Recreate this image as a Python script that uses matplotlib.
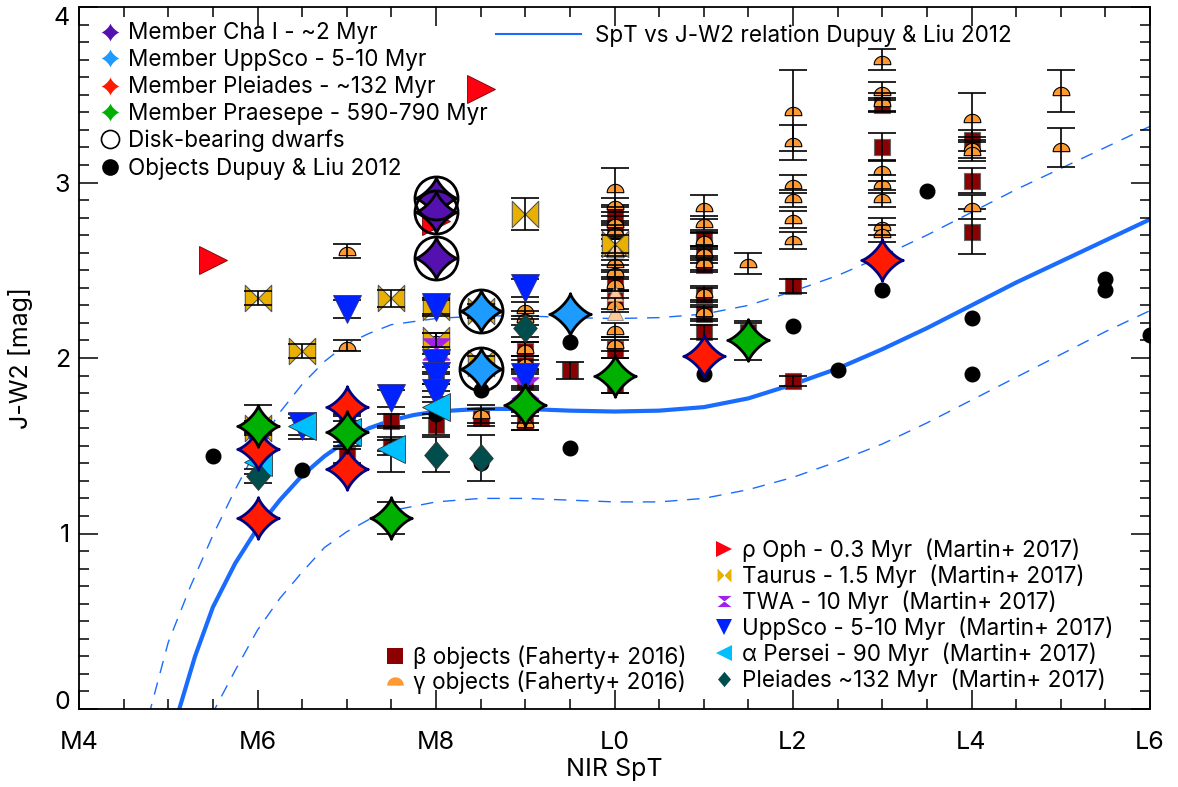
import numpy as np
import matplotlib
matplotlib.use("Agg")
import matplotlib.pyplot as plt
from matplotlib.path import Path
from matplotlib.lines import Line2D

# ---- data (NIR SpT: M4=4 ... M9=9, L0=10 ... L6=16) ----
# Dupuy & Liu 2012 relation and its scatter
dl_spt = [5.1, 5.3, 5.5, 5.75, 6.0, 6.25, 6.5, 6.75, 7.0, 7.25, 7.5, 7.75, 8.0, 8.5,
          9.0, 9.5, 10.0, 10.5, 11.0, 11.5, 12.0, 12.5, 13.0, 13.5, 14.0, 14.5, 15.0, 15.5, 16.0]
dl_jw2 = [-0.04, 0.30, 0.58, 0.83, 1.03, 1.19, 1.33, 1.44, 1.53, 1.60, 1.645, 1.675, 1.695, 1.71,
          1.71, 1.70, 1.695, 1.70, 1.72, 1.77, 1.85, 1.94, 2.05, 2.17, 2.30, 2.43, 2.55, 2.67, 2.79]
up_spt = [4.78, 5.0, 5.25, 5.5, 5.75, 6.0, 6.25, 6.5, 6.75, 7.0, 7.25, 7.5, 8.0, 8.5, 9.0, 9.5,
          10.0, 10.5, 11.0, 11.5, 12.0, 12.5, 13.0, 13.5, 14.0, 14.5, 15.0, 15.5, 16.0]
up_jw2 = [-0.04, 0.38, 0.70, 0.99, 1.25, 1.49, 1.69, 1.85, 1.98, 2.08, 2.14, 2.19, 2.225, 2.24, 2.24, 2.23,
          2.225, 2.23, 2.25, 2.30, 2.38, 2.47, 2.58, 2.70, 2.83, 2.96, 3.08, 3.20, 3.32]
lo_spt = [5.48, 5.75, 6.0, 6.25, 6.5, 6.75, 7.0, 7.25, 7.5, 8.0, 8.5, 9.0, 9.5, 10.0, 10.5,
          11.0, 11.5, 12.0, 12.5, 13.0, 13.5, 14.0, 14.5, 15.0, 15.5, 16.0]
lo_jw2 = [-0.04, 0.22, 0.45, 0.63, 0.78, 0.92, 1.01, 1.08, 1.13, 1.18, 1.20, 1.20, 1.19, 1.18, 1.18,
          1.20, 1.25, 1.32, 1.41, 1.51, 1.63, 1.76, 1.89, 2.02, 2.15, 2.27]

# Dupuy & Liu 2012 objects
dupuy_spt = [5.5, 6.5, 8.0, 8.5, 8.5, 9.5, 9.5, 11.0, 12.0, 12.5, 13.0, 13.5, 14.0, 14.0, 15.5, 15.5, 16.0]
dupuy_jw2 = [1.44, 1.36, 1.68, 1.82, 1.40, 2.09, 1.49, 1.91, 2.18, 1.93, 2.39, 2.95, 2.23, 1.91, 2.45, 2.39, 2.13]

# Faherty+ 2016 beta objects
beta_spt = [7, 7, 7.5, 7.5, 8, 8, 8.5, 9, 9, 9, 9, 9.5,
            10, 10, 10, 10, 10, 10, 11, 11, 11, 11, 11, 11, 11.5, 12, 12, 13, 13, 14, 14, 14]
beta_jw2 = [1.62, 1.45, 1.64, 1.50, 1.86, 1.62, 1.66, 2.04, 1.96, 1.87, 1.64, 1.93,
            2.82, 2.73, 2.44, 2.33, 2.05, 1.85, 2.68, 2.58, 2.53, 2.36, 2.25, 2.15, 2.15, 2.41, 1.87,
            3.44, 3.20, 3.24, 3.01, 2.72]
beta_err = [0.05, 0.05, 0.04, 0.05, 0.05, 0.06, 0.05, 0.05, 0.05, 0.05, 0.05, 0.05,
            0.05, 0.05, 0.05, 0.05, 0.05, 0.05, 0.04, 0.04, 0.04, 0.04, 0.04, 0.04, 0.05, 0.04, 0.03,
            0.04, 0.08, 0.06, 0.07, 0.13]

# Faherty+ 2016 gamma objects
gamma_spt = [7, 7, 7.5, 8, 8.5, 9, 9, 9, 9, 9,
             10, 10, 10, 10, 10, 10, 10, 10, 10, 10, 10,
             11, 11, 11, 11, 11, 11, 11, 11.5,
             12, 12, 12, 12, 12, 12,
             13, 13, 13, 13, 13, 13, 13, 13,
             14, 14, 14, 14, 15, 15]
gamma_jw2 = [2.61, 2.07, 1.50, 2.10, 1.68, 2.28, 2.23, 2.05, 1.97, 1.63,
             2.97, 2.87, 2.77, 2.72, 2.60, 2.54, 2.49, 2.42, 2.30, 2.16, 2.08,
             2.86, 2.77, 2.67, 2.60, 2.54, 2.37, 2.26, 2.54,
             3.41, 3.23, 2.99, 2.91, 2.79, 2.67,
             3.70, 3.52, 3.46, 3.07, 2.99, 2.91, 2.75, 2.71,
             3.37, 3.20, 3.18, 2.86, 3.52, 3.20]
gamma_err = [0.04, 0.03, 0.03, 0.04, 0.05, 0.04, 0.04, 0.04, 0.04, 0.04,
             0.11, 0.04, 0.04, 0.04, 0.04, 0.04, 0.04, 0.04, 0.04, 0.04, 0.04,
             0.07, 0.04, 0.04, 0.04, 0.04, 0.04, 0.04, 0.06,
             0.23, 0.10, 0.05, 0.05, 0.05, 0.05,
             0.06, 0.05, 0.05, 0.06, 0.05, 0.05, 0.05, 0.05,
             0.14, 0.06, 0.06, 0.07, 0.12, 0.11]
pale_spt = [10, 10, 10]
pale_jw2 = [2.62, 2.37, 2.26]

# Martin+ 2017
oph_spt = [5.5, 8.5, 8.0]
oph_jw2 = [2.56, 3.53, 2.78]
tau_spt = [6, 6, 6.5, 7.5, 8, 8, 8.5, 8.5, 9, 10]
tau_jw2 = [2.34, 1.60, 2.04, 2.34, 2.29, 2.10, 2.27, 1.97, 2.82, 2.65]
tau_err = [0.04, 0.04, 0.04, 0.05, 0.04, 0.04, 0.04, 0.04, 0.09, 0.05]
twa_spt = [8, 9]
twa_jw2 = [2.05, 1.83]
usco_spt = [6, 6.5, 7, 7.5, 8, 8, 8, 8, 9, 9]
usco_jw2 = [1.52, 1.61, 2.28, 1.77, 2.29, 1.97, 1.90, 1.80, 2.40, 1.89]
usco_err = [0.05, 0.07, 0.05, 0.05, 0.05, 0.05, 0.05, 0.05, 0.05, 0.05]
aper_spt = [6, 6.5, 7, 7.5, 8]
aper_jw2 = [1.41, 1.61, 1.58, 1.48, 1.72]
aper_err = [0.07, 0.05, 0.06, 0.13, 0.06]
plm_spt = [6, 8, 8.5, 9]
plm_jw2 = [1.33, 1.45, 1.43, 2.17]
plm_err = [0.04, 0.1, 0.13, 0.05]

# members (this work)
cha_spt = [8, 8, 8]
cha_jw2 = [2.91, 2.83, 2.57]
usc_spt = [8.5, 8.5, 9.5]
usc_jw2 = [2.27, 1.94, 2.25]
ple_spt = [6, 6, 7, 7, 11, 13]
ple_jw2 = [1.09, 1.48, 1.72, 1.37, 2.01, 2.56]
pra_spt = [6, 7, 7.5, 9, 10, 11.5]
pra_jw2 = [1.61, 1.58, 1.09, 1.73, 1.90, 2.10]
pra_err = [0.12, 0.10, 0.09, 0.10, 0.10, 0.11]
disk_spt = [8, 8, 8, 8.5, 8.5]
disk_jw2 = [2.91, 2.83, 2.57, 2.27, 1.94]

xticks = [4, 6, 8, 10, 12, 14, 16]
xticklabels = ['M4', 'M6', 'M8', 'L0', 'L2', 'L4', 'L6']


# ---- custom markers ----
def make_star(p=2.6, n=160):
    t = np.linspace(0, 2 * np.pi, n)
    c, s = np.cos(t), np.sin(t)
    v = np.column_stack([np.sign(c) * np.abs(c) ** p, np.sign(s) * np.abs(s) ** p])
    return Path(v, closed=True)


STAR = make_star()
t = np.linspace(0, np.pi, 40)
dome = np.column_stack([np.cos(t), np.sin(t) - 0.5])
DOME = Path(np.vstack([dome, dome[:1]]), closed=True)
quad = [Path.MOVETO, Path.LINETO, Path.LINETO, Path.CLOSEPOLY]
BOWTIE = Path([(-1, -1), (0, 0), (-1, 1), (-1, -1), (1, -1), (0, 0), (1, 1), (1, -1)], quad * 2)
HOURGLASS = Path([(-1, 0.8), (1, 0.8), (0, 0), (-1, 0.8), (-1, -0.8), (1, -0.8), (0, 0), (-1, -0.8)], quad * 2)
DIAMOND = Path([(0, 1), (0.85, 0), (0, -1), (-0.85, 0), (0, 1)], closed=True)

plt.rcParams['font.family'] = ['Inter', 'DejaVu Sans']

fig = plt.figure(figsize=(11.78, 7.87), dpi=100)
ax = fig.add_axes([79 / 1178, 1 - 709 / 787, 1071 / 1178, 702 / 787])

# relation
ax.plot(dl_spt, dl_jw2, color='#1a6cff', lw=3.0, zorder=1)
ax.plot(up_spt, up_jw2, color='#1a6cff', lw=1.0, ls=(0, (9, 7)), zorder=1)
ax.plot(lo_spt, lo_jw2, color='#1a6cff', lw=1.0, ls=(0, (9, 7)), zorder=1)

eb = dict(fmt='none', ecolor='black', elinewidth=1.2, capsize=10, capthick=1.2)

# Faherty objects
ax.plot(beta_spt, beta_jw2, ls='none', marker='s', ms=12, mfc='#8b0000', mec='#666666', mew=0.8, zorder=2)
ax.errorbar(beta_spt, beta_jw2, yerr=beta_err, zorder=2.2, **eb)
ax.plot(gamma_spt, gamma_jw2, ls='none', marker=DOME, ms=12, mfc='#ff9a33', mec='black', mew=0.8, zorder=2.3)
ax.plot(pale_spt, pale_jw2, ls='none', marker='^', ms=12, mfc='#ffc896', mec='#888888', mew=0.6, zorder=2.3)
ax.errorbar(gamma_spt, gamma_jw2, yerr=gamma_err, zorder=2.4, **eb)

# Dupuy objects
ax.plot(dupuy_spt, dupuy_jw2, ls='none', marker='o', ms=10.5, mfc='black', mec='black', zorder=3)

# Martin objects
ax.plot(tau_spt, tau_jw2, ls='none', marker=BOWTIE, ms=19, mfc='#e8b000', mec='#555555', mew=0.8, zorder=4)
ax.errorbar(tau_spt, tau_jw2, yerr=tau_err, zorder=4.1, **eb)
ax.plot(twa_spt, twa_jw2, ls='none', marker=HOURGLASS, ms=19, mfc='#a020f0', mec='#a020f0', zorder=4)
ax.plot(usco_spt, usco_jw2, ls='none', marker='v', ms=20, mfc='#0022ff', mec='#333377', mew=0.6, zorder=4.2)
ax.errorbar(usco_spt, usco_jw2, yerr=usco_err, zorder=4.1, **eb)
ax.plot(aper_spt, aper_jw2, ls='none', marker='<', ms=20, mfc='#00bfff', mec='#333333', mew=0.6, zorder=4.3)
ax.errorbar(aper_spt, aper_jw2, yerr=aper_err, zorder=4.1, **eb)
ax.plot(plm_spt, plm_jw2, ls='none', marker=DIAMOND, ms=20, mfc='#004d4d', mec='#333333', mew=0.6, zorder=4.3)
ax.errorbar(plm_spt, plm_jw2, yerr=plm_err, zorder=4.1, **eb)
ax.plot(oph_spt, oph_jw2, ls='none', marker='>', ms=20, mfc='#ff0010', mec='#770000', mew=0.6, zorder=4.4)

# members
ax.errorbar(pra_spt, pra_jw2, yerr=pra_err, zorder=5, **eb)
ax.plot(ple_spt, ple_jw2, ls='none', marker=STAR, ms=30, mfc='#ff1a00', mec='#000080', mew=2.0, zorder=5.1)
ax.plot(pra_spt, pra_jw2, ls='none', marker=STAR, ms=30, mfc='#00b000', mec='black', mew=2.0, zorder=5.1)
ax.plot(cha_spt, cha_jw2, ls='none', marker=STAR, ms=30, mfc='#5510b0', mec='black', mew=2.0, zorder=5.1)
ax.plot(usc_spt, usc_jw2, ls='none', marker=STAR, ms=30, mfc='#1e9bff', mec='black', mew=2.0, zorder=5.1)
ax.plot(disk_spt, disk_jw2, ls='none', marker='o', ms=31, mfc='none', mec='black', mew=2.0, zorder=5.2)

# axes
ax.set_xlim(4, 16)
ax.set_ylim(0, 4)
ax.set_xticks(xticks)
ax.set_xticklabels(xticklabels)
ax.set_xticks(np.arange(4, 16.01, 0.5), minor=True)
ax.set_yticks([0, 1, 2, 3, 4])
ax.set_yticks(np.arange(0, 4.001, 0.1), minor=True)
ax.tick_params(which='both', direction='in', top=True, right=True, labelsize=18, width=1.1)
ax.tick_params(which='major', length=14)
ax.tick_params(axis='x', which='major', pad=16)
ax.tick_params(axis='y', which='major', pad=6.5)
ax.tick_params(which='minor', length=7)
ylabs = ax.get_yticklabels()
ylabs[0].set_va('baseline')
ylabs[-1].set_va('top')
for sp in ax.spines.values():
    sp.set_linewidth(1.3)
ax.set_xlabel('NIR SpT', fontsize=18, labelpad=3)
ax.set_ylabel('J-W2 [mag]', fontsize=18, labelpad=15)

# legends
def h(marker, ms, fc, ec='none', mew=0.0):
    return Line2D([], [], ls='none', marker=marker, ms=ms, mfc=fc, mec=ec, mew=mew)


leg_kw = dict(frameon=False, fontsize=16.2, borderpad=0, borderaxespad=0,
              handletextpad=0.3, handlelength=1.0, labelspacing=0.21)

leg1 = ax.legend([h(STAR, 13, '#5510b0'), h(STAR, 13, '#1e9bff'), h(STAR, 13, '#ff1a00'),
                  h(STAR, 13, '#00b000'), h('o', 13, 'white', 'black', 1.2), h('o', 12, 'black')],
                 ['Member Cha I - ~2 Myr', 'Member UppSco - 5-10 Myr', 'Member Pleiades - ~132 Myr',
                  'Member Praesepe - 590-790 Myr', 'Disk-bearing dwarfs', 'Objects Dupuy & Liu 2012'],
                 loc='upper left', bbox_to_anchor=(0.018, 0.978), **leg_kw)
ax.add_artist(leg1)

leg2 = ax.legend([Line2D([], [], color='#1a6cff', lw=1.5)], ['SpT vs J-W2 relation Dupuy & Liu 2012'],
                 loc='upper left', bbox_to_anchor=(0.389, 0.9755),
                 **dict(leg_kw, handlelength=3.8, handletextpad=0.6))
ax.add_artist(leg2)

leg3 = ax.legend([h('s', 12, '#8b0000'), h(DOME, 12, '#ff9a33')],
                 ['β objects (Faherty+ 2016)', 'γ objects (Faherty+ 2016)'],
                 loc='lower left', bbox_to_anchor=(0.285, 0.021),
                 **dict(leg_kw, labelspacing=0.08))
ax.add_artist(leg3)

ax.legend([h('>', 11, '#ff0010'), h(BOWTIE, 10, '#e8b000'), h(HOURGLASS, 10, '#a020f0'),
           h('v', 11, '#0022ff'), h('<', 11, '#00bfff'), h(DIAMOND, 11, '#004d4d')],
          ['ρ Oph - 0.3 Myr  (Martin+ 2017)', 'Taurus - 1.5 Myr  (Martin+ 2017)',
           'TWA - 10 Myr  (Martin+ 2017)', 'UppSco - 5-10 Myr  (Martin+ 2017)',
           'α Persei - 90 Myr  (Martin+ 2017)', 'Pleiades ~132 Myr  (Martin+ 2017)'],
          loc='lower left', bbox_to_anchor=(0.592, 0.024),
          **dict(leg_kw, labelspacing=0.11))

fig.savefig('out.png', dpi=100)
